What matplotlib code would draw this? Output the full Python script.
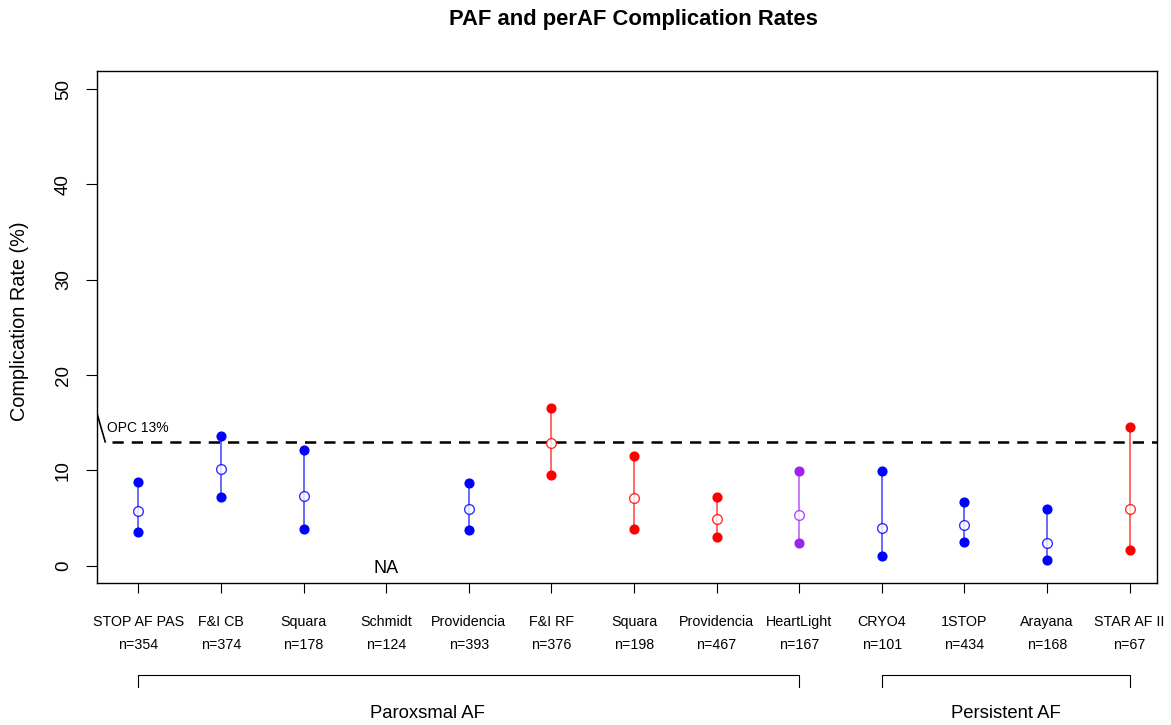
import matplotlib
matplotlib.use("Agg")
import matplotlib.pyplot as plt
import numpy as np

plt.rcParams['font.family'] = ['Liberation Sans', 'DejaVu Sans']

# trial data
trials = ["STOP AF PAS", "F&I CB", "Squara", "Schmidt", "Providencia", "F&I RF",
          "Squara", "Providencia", "HeartLight", "CRYO4", "1STOP", "Arayana", "STAR AF II"]
n_pts = [354, 374, 178, 124, 393, 376, 198, 467, 167, 101, 434, 168, 67]
rate = [5.8, 10.2, 7.3, np.nan, 6.0, 12.9, 7.1, 4.9, 5.3, 4.0, 4.3, 2.4, 6.0]
upper = [8.8, 13.6, 12.2, np.nan, 8.7, 16.6, 11.5, 7.2, 9.9, 9.9, 6.7, 6.0, 14.6]
lower = [3.5, 7.2, 3.9, np.nan, 3.8, 9.5, 3.9, 3.0, 2.4, 1.0, 2.5, 0.6, 1.7]
energy = ["cryo", "cryo", "cryo", "cryo", "cryo", "rf", "rf", "rf", "laser",
          "cryo", "cryo", "cryo", "rf"]
opc = 13

colors = {"cryo": "#0000FF", "rf": "#FF0000", "laser": "#A020F0"}

fig = plt.figure(figsize=(11.71, 7.25), dpi=100)
ax = fig.add_axes([0.0828, 0.1959, 0.9052, 0.7061])

x = np.arange(1, len(trials) + 1)
for i in range(len(trials)):
    c = colors[energy[i]]
    if np.isnan(rate[i]):
        ax.text(x[i], -0.3, "NA", ha="center", va="center", fontsize=13)
        continue
    ax.plot([x[i], x[i]], [lower[i], upper[i]], color=c, lw=1.1, alpha=0.75, zorder=2)
    ax.plot([x[i], x[i]], [lower[i], upper[i]], "o", color=c, ms=6.3, zorder=3)
    ax.plot(x[i], rate[i], "o", mfc="white", mec=c, mew=1.0, ms=7, alpha=0.8, zorder=3)

# performance goal
ax.plot([0.68, 13.33], [opc, opc], "--", color="black", lw=1.8, dashes=(4.5, 3.2), zorder=1)
ax.plot([0.5, 0.6], [16, 13], color="black", lw=1.2)
ax.text(0.62, 13.7, "OPC 13%", fontsize=10, va="bottom", ha="left")

ax.set_xlim(0.5, 13.33)
ax.set_ylim(-1.8, 51.9)
ax.set_yticks([0, 10, 20, 30, 40, 50])
ax.tick_params(axis="y", labelsize=13.5, length=8, width=0.8, pad=10, labelrotation=90)
for lab in ax.get_yticklabels():
    lab.set_va("center")
ax.set_xticks(x)
ax.set_xticklabels([])
ax.tick_params(axis="x", length=7, width=0.8)
for sp in ax.spines.values():
    sp.set_linewidth(1.0)

fig.text(20 / 1171, 1 - 321 / 725, "Complication Rate (%)", rotation=90,
         ha="center", va="center", fontsize=14.3)
fig.text(633 / 1171, 1 - 19 / 725, "PAF and perAF Complication Rates",
         ha="center", va="center", fontsize=15.8, fontweight="bold")

# labels under each trial
trans = ax.get_xaxis_transform()
for i in range(len(trials)):
    ax.text(x[i], -0.077, trials[i], transform=trans, ha="center", va="center", fontsize=10.3)
    ax.text(x[i], -0.122, "n=" + str(n_pts[i]), transform=trans, ha="center", va="center", fontsize=10.3)

# group brackets
groups = [("Paroxsmal AF", 1, 9, 4.5), ("Persistent AF", 10, 13, 11.5)]
for name, a, b, mid in groups:
    ax.plot([a, a, b, b], [-0.203, -0.180, -0.180, -0.203], transform=trans,
            color="black", lw=0.8, clip_on=False)
    ax.text(mid, -0.254, name, transform=trans, ha="center", va="center", fontsize=13.3)

fig.savefig("out.png", dpi=100)
